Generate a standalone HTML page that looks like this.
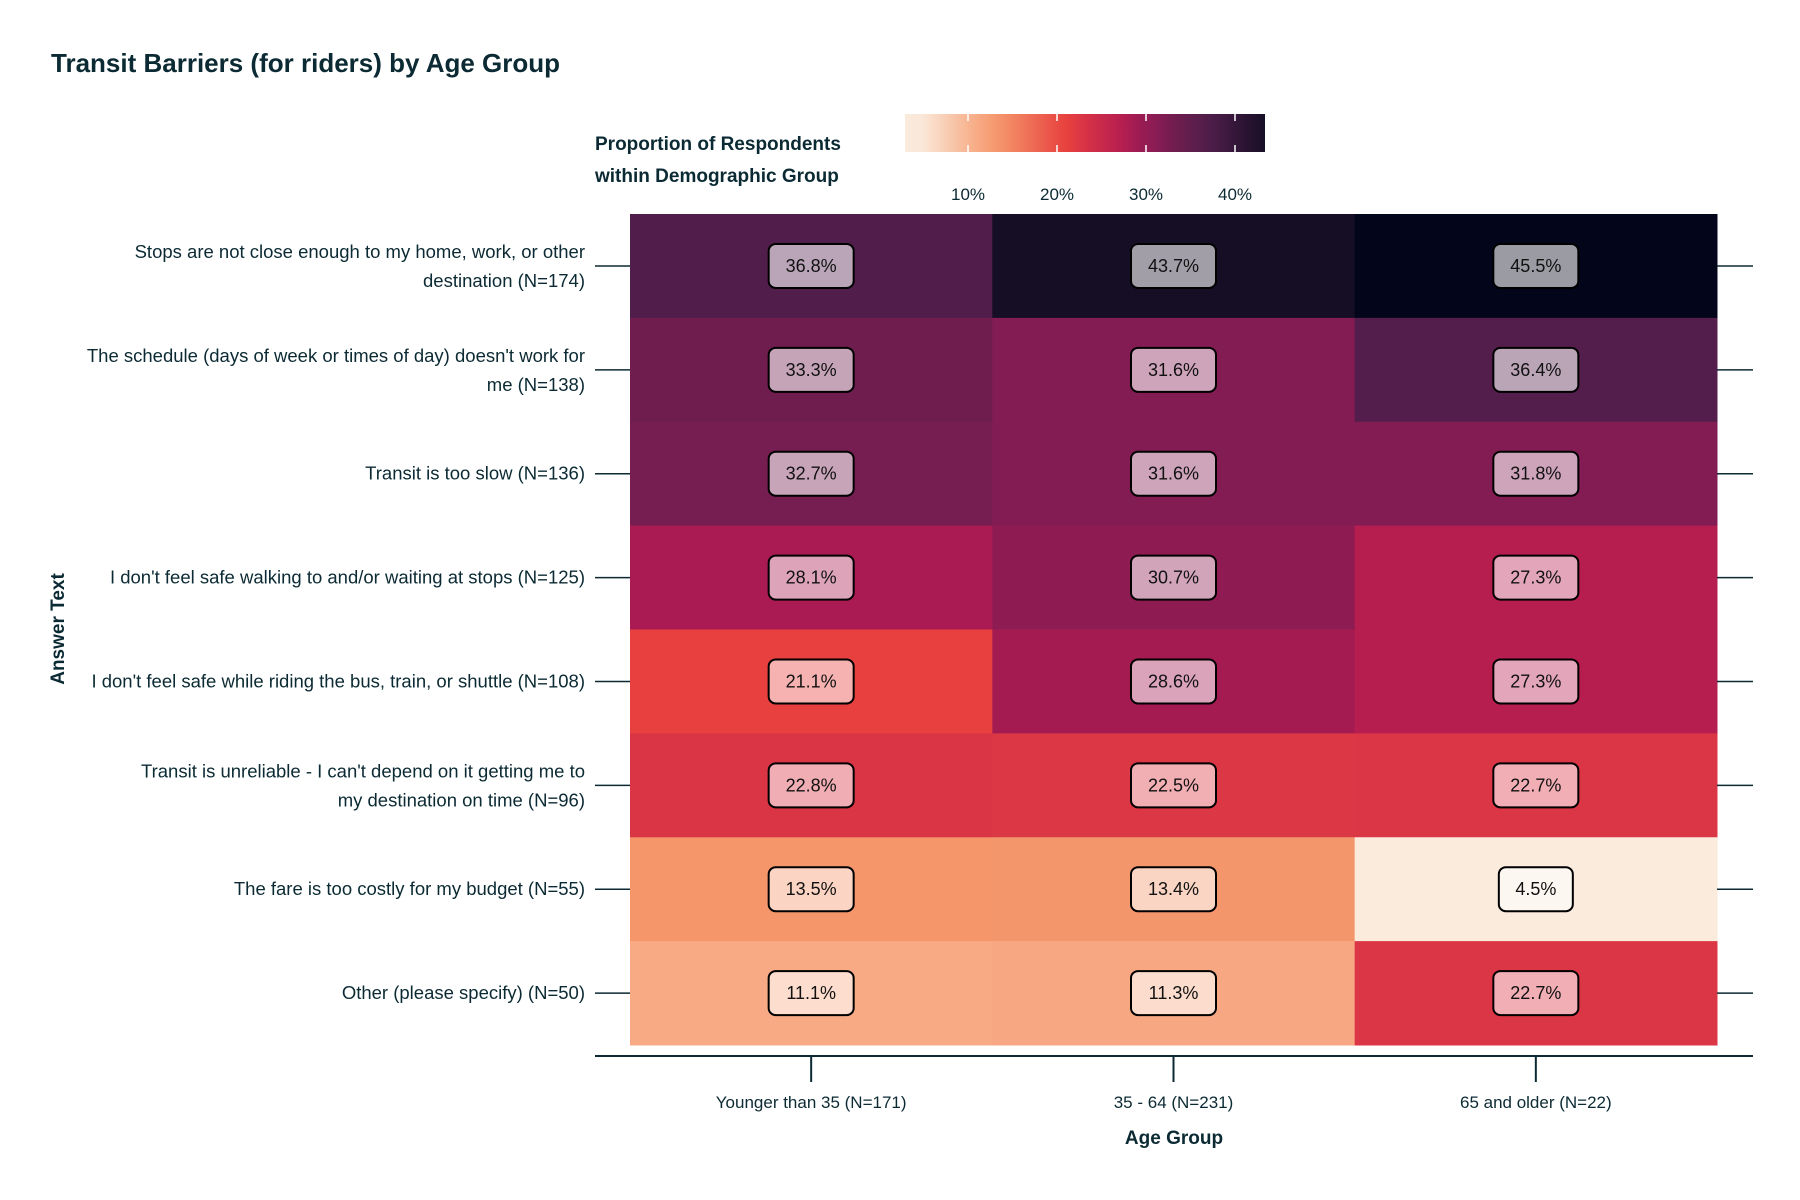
<!DOCTYPE html>
<html><head><meta charset="utf-8">
<style>
html,body{margin:0;padding:0;background:#fff;}
svg{display:block;font-family:"Liberation Sans",sans-serif;}
</style></head>
<body>
<svg id="chart" width="1800" height="1200" viewBox="0 0 1800 1200" xmlns="http://www.w3.org/2000/svg">
<text x="51" y="72" font-size="26" font-weight="bold" fill="#0b2a33">Transit Barriers (for riders) by Age Group</text>
<text x="595" y="150" font-size="19" font-weight="bold" fill="#0b2a33">Proportion of Respondents</text>
<text x="595" y="182" font-size="19" font-weight="bold" fill="#0b2a33">within Demographic Group</text>
<text transform="translate(64,629) rotate(-90)" text-anchor="middle" font-size="19" font-weight="bold" fill="#0b2a33">Answer Text</text>
<text x="1174" y="1144" text-anchor="middle" font-size="19" font-weight="bold" fill="#0b2a33">Age Group</text>
<g id="cells"></g><g id="labels"></g><g id="axes"></g><g id="legend"></g>
</svg>
<script>
const categories = ["Younger than 35 (N=171)", "35 - 64 (N=231)", "65 and older (N=22)"];
const rowsLine1 = ["Stops are not close enough to my home, work, or other", "The schedule (days of week or times of day) doesn't work for", "Transit is too slow (N=136)", "I don't feel safe walking to and/or waiting at stops (N=125)", "I don't feel safe while riding the bus, train, or shuttle (N=108)", "Transit is unreliable - I can't depend on it getting me to", "The fare is too costly for my budget (N=55)", "Other (please specify) (N=50)"];
const rowsLine2 = ["destination (N=174)", "me (N=138)", "", "", "", "my destination on time (N=96)", "", ""];
const colYoung = [36.8, 33.3, 32.7, 28.1, 21.1, 22.8, 13.5, 11.1];
const colMid = [43.7, 31.6, 31.6, 30.7, 28.6, 22.5, 13.4, 11.3];
const colOld = [45.5, 36.4, 31.8, 27.3, 27.3, 22.7, 4.5, 22.7];
const legendTicks = [10, 20, 30, 40];

const NS = "http://www.w3.org/2000/svg";
function mk(tag, attrs, parent){const e=document.createElementNS(NS,tag);for(const k in attrs)e.setAttribute(k,attrs[k]);parent.appendChild(e);return e;}
const X0=630, X1=1717, Y0=214, Y1=1045;
const cw=(X1-X0)/categories.length, rh=(Y1-Y0)/rowsLine1.length;
const xBand=i=>X0+i*cw, yBand=j=>Y0+j*rh;
const cmap=[[4.5,[250,235,221]],[11.1,[247,170,132]],[13.5,[244,149,106]],[21.1,[232,64,62]],[22.8,[218,53,69]],[27.3,[182,30,80]],[28.1,[169,27,82]],[31.6,[132,28,84]],[33.3,[111,29,79]],[36.8,[81,30,76]],[43.7,[21,14,37]],[45.5,[3,5,26]]];
function color(v){
 if(v<=cmap[0][0])return `rgb(${cmap[0][1]})`;
 for(let i=1;i<cmap.length;i++){if(v<=cmap[i][0]){const a=cmap[i-1],b=cmap[i],t=(v-a[0])/(b[0]-a[0]);return `rgb(${a[1].map((c,k)=>Math.round(c+(b[1][k]-c)*t)).join(",")})`;}}
 return `rgb(${cmap[cmap.length-1][1]})`;
}
const cols=[colYoung,colMid,colOld];
const gC=document.getElementById('cells'), gL=document.getElementById('labels'), gA=document.getElementById('axes'), gG=document.getElementById('legend');
const ink="#0b2a33";
cols.forEach((col,i)=>col.forEach((v,j)=>{
 const r=mk('rect',{x:xBand(i),y:yBand(j),width:cw+0.5,height:rh+0.5,fill:color(v)},gC);
 
 
 const cx=xBand(i)+cw/2, cy=yBand(j)+rh/2;
 const txt=v.toFixed(1)+'%'; const bw=txt.length>4?85:74;
 const b=mk('rect',{x:cx-bw/2,y:cy-22,width:bw,height:44,rx:7,fill:'rgba(255,255,255,0.6)',stroke:'#000','stroke-width':2},gL);
 
 
 const t=mk('text',{x:cx,y:cy+6,'text-anchor':'middle','font-size':18,fill:'#111'},gL);
 t.textContent=txt;
 
 
}));
const ax=mk('line',{x1:595,x2:1753,y1:1056,y2:1056,stroke:ink,'stroke-width':2},gA);


categories.forEach((c,i)=>{
 const cx=xBand(i)+cw/2;
 mk('line',{x1:cx,x2:cx,y1:1056,y2:1082,stroke:ink,'stroke-width':2},gA);
 const t=mk('text',{x:cx,y:1108,'text-anchor':'middle','font-size':17,fill:ink},gA);
 t.textContent=c;
 
 
});
rowsLine1.forEach((r,j)=>{
 const cy=yBand(j)+rh/2;
 mk('line',{x1:595,x2:630,y1:cy,y2:cy,stroke:ink,'stroke-width':1.5},gA);
 mk('line',{x1:1717,x2:1753,y1:cy,y2:cy,stroke:ink,'stroke-width':1.5},gA);
 const two=rowsLine2[j]!=="";
 const t=mk('text',{x:585,y:two?cy-8:cy+6,'text-anchor':'end','font-size':18.5,fill:ink},gA);
 t.textContent=r;
 
 
 if(two){const t2=mk('text',{x:585,y:cy+21,'text-anchor':'end','font-size':18.5,fill:ink},gA);
 t2.textContent=rowsLine2[j];
 
 }
});
const LX0=905, LX1=1265, LY0=114, LY1=152;
const lx=v=>879+8.9*v;
const vmin=(LX0-879)/8.9, vmax=(LX1-879)/8.9;
const defs=mk('defs',{},gG);
const grad=mk('linearGradient',{id:'cbar',x1:0,x2:1,y1:0,y2:0},defs);
for(let k=0;k<=20;k++){const v=vmin+(vmax-vmin)*k/20;mk('stop',{offset:(k/20),'stop-color':color(v)},grad);}
const bar=mk('rect',{x:LX0,y:LY0,width:LX1-LX0,height:LY1-LY0,fill:'url(#cbar)'},gG);


legendTicks.forEach(v=>{
 const x=lx(v);
 mk('line',{x1:x,x2:x,y1:LY0,y2:LY0+7,stroke:'#fff','stroke-width':1.5},gG);
 mk('line',{x1:x,x2:x,y1:LY1-7,y2:LY1,stroke:'#fff','stroke-width':1.5},gG);
 const t=mk('text',{x:x,y:200,'text-anchor':'middle','font-size':17,fill:ink},gG);
 t.textContent=v+'%';
 
 
});
</script>
</body></html>
